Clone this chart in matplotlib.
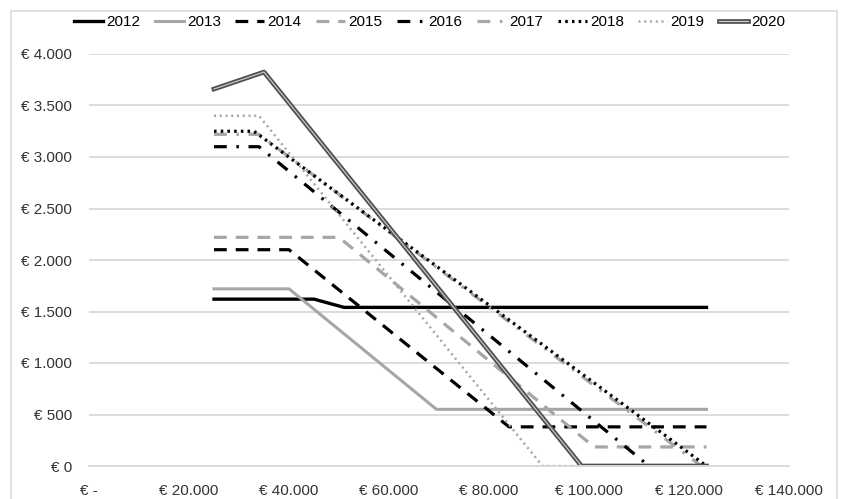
import matplotlib
matplotlib.use("Agg")
import matplotlib.pyplot as plt
import matplotlib.patheffects as pe
from matplotlib.patches import Rectangle
from matplotlib.ticker import FuncFormatter, MultipleLocator

plt.rcParams['font.family'] = ['Liberation Sans Narrow', 'Liberation Sans', 'DejaVu Sans']

# income (x) vs. benefit (y), one polyline per year
years = ['2012', '2013', '2014', '2015', '2016', '2017', '2018', '2019', '2020']
x2012 = [25000, 45000, 51000, 123500]
y2012 = [1620, 1620, 1540, 1540]
x2013 = [25000, 40000, 69500, 123500]
y2013 = [1720, 1720, 550, 550]
x2014 = [25000, 40000, 84000, 123500]
y2014 = [2100, 2100, 380, 380]
x2015 = [25000, 50000, 101000, 123500]
y2015 = [2220, 2220, 185, 185]
x2016 = [25000, 34000, 112000, 123500]
y2016 = [3100, 3100, 0, 0]
x2017 = [25000, 34000, 122500, 123500]
y2017 = [3220, 3220, 0, 0]
x2018 = [25000, 33000, 123500]
y2018 = [3250, 3250, 0]
x2019 = [25000, 34000, 90700, 123500]
y2019 = [3400, 3400, 0, 0]
x2020 = [25000, 35000, 98500, 123500]
y2020 = [3660, 3825, 0, 0]

black = '#000000'
grey = '#a6a6a6'

fig = plt.figure(figsize=(8.44, 4.99), dpi=100)
ax = fig.add_axes([89/844, 1 - 466/499, 700/844, 412/499])

ax.plot(x2012, y2012, color=black, lw=2.4, label='2012')
ax.plot(x2013, y2013, color=grey, lw=2.2, label='2013')
ax.plot(x2014, y2014, color=black, lw=2.3, dashes=(4, 2.8), label='2014')
ax.plot(x2015, y2015, color=grey, lw=2.3, dashes=(4, 2.8), label='2015')
ax.plot(x2016, y2016, color=black, lw=2.3, dashes=(4, 3, 0.8, 3), label='2016')
ax.plot(x2017, y2017, color=grey, lw=2.3, dashes=(4, 3, 0.8, 3), label='2017')
ax.plot(x2018, y2018, color=black, lw=2.3, dashes=(0.8, 1.3), label='2018')
ax.plot(x2019, y2019, color=grey, lw=1.8, dashes=(0.8, 1.5), label='2019')
ax.plot(x2020, y2020, color='#d0d0d0', lw=0.8, label='2020',
        path_effects=[pe.Stroke(linewidth=3.4, foreground='#505050'), pe.Normal()])

ax.set_xlim(0, 140000)
ax.set_ylim(0, 4000)
ax.xaxis.set_major_locator(MultipleLocator(20000))
ax.yaxis.set_major_locator(MultipleLocator(500))

def euro(v, pos):
    if v == 0:
        return '€ -'
    return '€ ' + f'{v:,.0f}'.replace(',', '.')

def euro_y(v, pos):
    return '€ ' + f'{v:,.0f}'.replace(',', '.')

ax.xaxis.set_major_formatter(FuncFormatter(euro))
ax.yaxis.set_major_formatter(FuncFormatter(euro_y))
ax.tick_params(axis='both', length=0, labelsize=11, colors='#333333')
ax.tick_params(axis='y', pad=12)
ax.tick_params(axis='x', pad=13)

ax.grid(axis='y', color='#d9d9d9', lw=1.3)
ax.set_axisbelow(True)
for s in ['top', 'right', 'left']:
    ax.spines[s].set_visible(False)
ax.spines['bottom'].set_color('#d9d9d9')
ax.spines['bottom'].set_linewidth(1.3)

fig.legend(loc='center', bbox_to_anchor=(0.509, 1 - 22/499), ncol=9, frameon=False,
           handlelength=1.9, handletextpad=0.2, columnspacing=0.95, fontsize=11)

fig.patches.append(Rectangle((11/844, -0.01), 826/844, 1 - 11/499 + 0.01,
                             transform=fig.transFigure, fill=False,
                             edgecolor='#d9d9d9', lw=1.2))

fig.savefig('out.png', dpi=100)
